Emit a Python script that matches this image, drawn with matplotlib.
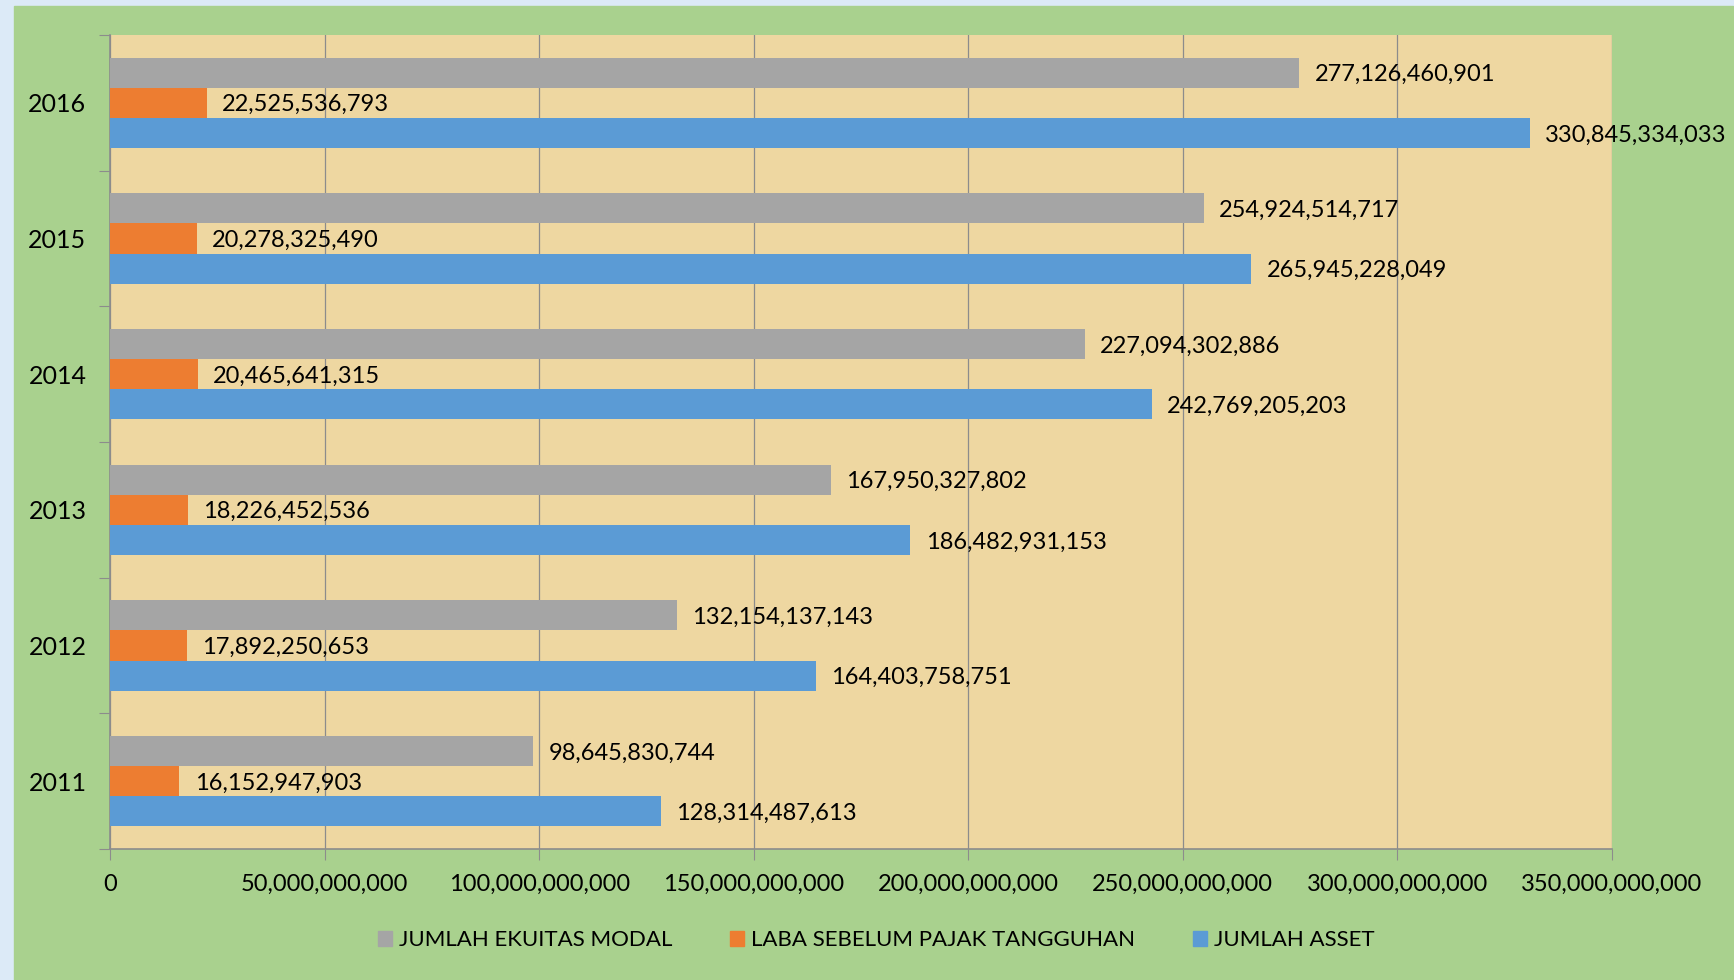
"""Horizontal grouped bar chart: asset, equity and pre-tax profit 2011-2016."""
import numpy as np
import matplotlib.pyplot as plt
from matplotlib.patches import Rectangle, Patch

years = ['2011', '2012', '2013', '2014', '2015', '2016']
ekuitas = [98645830744, 132154137143, 167950327802, 227094302886, 254924514717, 277126460901]
laba = [16152947903, 17892250653, 18226452536, 20465641315, 20278325490, 22525536793]
asset = [128314487613, 164403758751, 186482931153, 242769205203, 265945228049, 330845334033]

series = [
    ('JUMLAH EKUITAS MODAL', ekuitas, '#A5A5A5'),
    ('LABA SEBELUM PAJAK TANGGUHAN', laba, '#ED7D31'),
    ('JUMLAH ASSET', asset, '#5B9BD5'),
]

plt.rcParams['font.family'] = ['Lato', 'DejaVu Sans']
FS = 17

W, H = 1734, 980
fig = plt.figure(figsize=(W / 100, H / 100), dpi=100)
fig.patch.set_facecolor('#DCEAF7')
# green slide panel (behind the axes)
fig.patches.append(Rectangle((14 / W, 0), 1 - 15 / W, 1 - 6 / H,
                             transform=fig.transFigure, color='#A9D18E', zorder=-10))

L, R, T, B = 110, 1612, 35, 849
ax = fig.add_axes([L / W, 1 - B / H, (R - L) / W, (B - T) / H])
ax.set_facecolor('#EED7A1')

bh = 0.222
y = np.arange(len(years))
offsets = [bh, 0, -bh]
for (name, vals, col), off in zip(series, offsets):
    ax.barh(y + off, vals, height=bh, color=col, zorder=3, label=name)
    for yi, v in zip(y, vals):
        ax.annotate(f'{v:,}', (v, yi + off), xytext=(11, 0), textcoords='offset points',
                    va='center_baseline', ha='left', fontsize=FS, zorder=4,
                    annotation_clip=False)

ax.set_xlim(0, 350e9)
ax.set_ylim(-0.5, len(years) - 0.5)
xt = np.arange(0, 350e9 + 1, 50e9)
ax.set_xticks(xt)
ax.set_xticklabels([f'{int(v):,}' for v in xt], fontsize=FS)
ax.set_yticks(np.arange(-0.5, len(years), 1))
ax.set_yticklabels([])
ax.set_yticks(y, minor=True)
ax.set_yticklabels(years, minor=True, fontsize=FS + 1)
ax.tick_params(axis='y', which='major', length=8, color='#8C8C8C')
ax.tick_params(axis='y', which='minor', length=0, pad=17)
ax.tick_params(axis='x', length=8, color='#8C8C8C', pad=10)
ax.grid(axis='x', color='#8C8C8C', lw=0.9, zorder=1)
ax.set_axisbelow(True)
for s in ['top', 'right']:
    ax.spines[s].set_visible(False)
for s in ['left', 'bottom']:
    ax.spines[s].set_color('#8C8C8C')
    ax.spines[s].set_linewidth(1.2)

handles = [Patch(color=c, label=n) for n, _, c in series]
fig.legend(handles=handles, loc='center', bbox_to_anchor=(876 / W, 1 - 940 / H), ncol=3,
           frameon=False, fontsize=FS - 1, handlelength=0.65, handleheight=0.65,
           handletextpad=0.3, columnspacing=2.6)

plt.savefig('out.png', dpi=100, facecolor=fig.get_facecolor())
